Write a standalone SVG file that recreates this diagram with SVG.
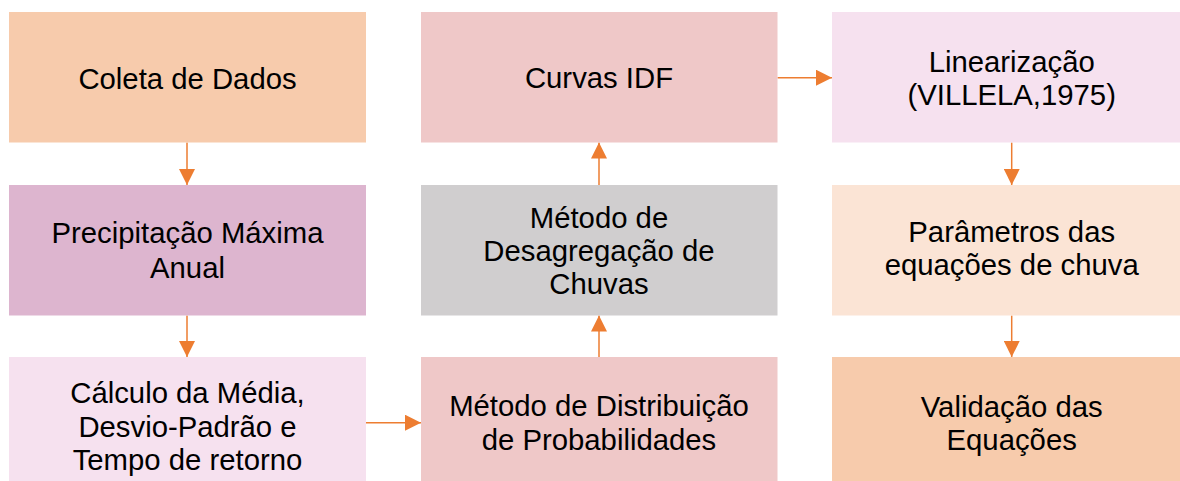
<svg xmlns="http://www.w3.org/2000/svg" width="1180" height="481" viewBox="0 0 1180 481">
<defs>
<style>
text{font-family:"Liberation Sans",Arial,sans-serif;font-size:29.3px;fill:#000;text-anchor:middle}
.c{stroke:#ED7D31;stroke-width:1.5;fill:none;marker-end:url(#ah)}
</style>
<marker id="ah" viewBox="0 0 16 16" refX="16" refY="8" markerWidth="16" markerHeight="16" markerUnits="userSpaceOnUse" orient="auto">
<path d="M0,0 L16,8 L0,16 Z" fill="#ED7D31"/>
</marker>
</defs>
<rect width="1180" height="481" fill="#fff"/>
<g id="connectors">
<line class="c" x1="187" y1="142.5" x2="187" y2="185"/>
<line class="c" x1="187" y1="315.5" x2="187" y2="357"/>
<line class="c" x1="366" y1="422.7" x2="421" y2="422.7"/>
<line class="c" x1="599" y1="357" x2="599" y2="315.5"/>
<line class="c" x1="599" y1="185" x2="599" y2="142.5"/>
<line class="c" x1="777.5" y1="77.7" x2="832" y2="77.7"/>
<line class="c" x1="1011.7" y1="142.5" x2="1011.7" y2="185"/>
<line class="c" x1="1011.7" y1="315.5" x2="1011.7" y2="357"/>
</g>
<g id="coleta"><rect x="9" y="12" width="357" height="130.5" fill="#F7CBAC"/><text x="187.5" y="89.3">Coleta de Dados</text></g>
<g id="precipitacao"><rect x="9" y="185" width="357" height="130.5" fill="#DDB5CF"/><text x="187.5" y="243.3">Precipitação Máxima</text><text x="187.5" y="277.7">Anual</text></g>
<g id="calculo"><rect x="9" y="357" width="357" height="130" fill="#F6E1EF"/><text x="187.5" y="403.3">Cálculo da Média,</text><text x="187.5" y="436.7">Desvio-Padrão e</text><text x="187.5" y="470">Tempo de retorno</text></g>
<g id="curvas"><rect x="421" y="12" width="356.5" height="130.5" fill="#EFC8C8"/><text x="599" y="88.3">Curvas IDF</text></g>
<g id="desagregacao"><rect x="421" y="185" width="356.5" height="130.5" fill="#D0CECF"/><text x="599" y="228.3">Método de</text><text x="599" y="261">Desagregação de</text><text x="599" y="294">Chuvas</text></g>
<g id="distribuicao"><rect x="421" y="357" width="356.5" height="130" fill="#EFC8C8"/><text x="599" y="416">Método de Distribuição</text><text x="599" y="450">de Probabilidades</text></g>
<g id="linearizacao"><rect x="832" y="12" width="360" height="130.5" fill="#F6E1EF"/><text x="1011.7" y="71.7">Linearização</text><text x="1011.7" y="105">(VILLELA,1975)</text></g>
<g id="parametros"><rect x="832" y="185" width="360" height="130.5" fill="#FBE4D5"/><text x="1011.7" y="242.3">Parâmetros das</text><text x="1011.7" y="275">equações de chuva</text></g>
<g id="validacao"><rect x="832" y="357" width="360" height="130" fill="#F7CBAC"/><text x="1011.7" y="416.7">Validação das</text><text x="1011.7" y="450">Equações</text></g>
</svg>
